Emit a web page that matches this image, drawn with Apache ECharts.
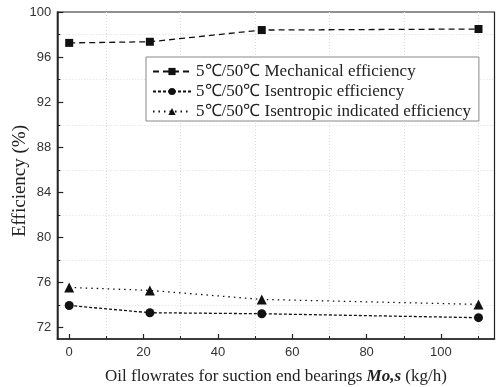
<!DOCTYPE html>
<html>
<head>
<meta charset="utf-8">
<script src="https://cdn.jsdelivr.net/npm/echarts@6/dist/echarts.min.js"></script>
<style>html,body{margin:0;padding:0;background:#fff}#c{width:500px;height:387px}</style>
</head>
<body>
<div id="c"></div>
<script>
const xValues = [0, 21.7, 51.8, 110.1];
const mechanical = [97.26, 97.36, 98.40, 98.49];
const isentropic = [73.97, 73.33, 73.24, 72.89];
const indicated = [75.57, 75.31, 74.51, 74.07];
const seriesNames = [
  '5\u2103/50\u2103 Mechanical efficiency',
  '5\u2103/50\u2103 Isentropic efficiency',
  '5\u2103/50\u2103 Isentropic indicated efficiency'
];
const xMajorTicks = [0, 20, 40, 60, 80, 100];
const xMinorTicks = [10, 30, 50, 70, 90, 110];
const yMajorTicks = [72, 76, 80, 84, 88, 92, 96, 100];
const yMinorTicks = [74, 78, 82, 86, 90, 94, 98];

const X_MIN = -3.2, X_MAX = 114.4, Y_MIN = 71, Y_MAX = 100;

function pts(ys) { return xValues.map((x, i) => [x, ys[i]]); }

const chart = echarts.init(document.getElementById('c'), null, {renderer: 'canvas'});
const labelFont = {fontFamily: '"Liberation Sans", Arial, sans-serif', fontSize: 13, color: '#333'};
const serif = '"Liberation Serif", "Times New Roman", serif';

chart.setOption({
  animation: false,
  backgroundColor: '#fff',
  grid: {left: 57.3, right: 5.5, top: 12, bottom: 48, outerBoundsMode: 'none', containLabel: false,
         show: true, borderColor: '#222', borderWidth: 1.2, backgroundColor: 'transparent'},
  legend: {
    orient: 'vertical', left: 146, top: 57,
    data: seriesNames,
    itemWidth: 38, itemHeight: 9, itemGap: 3,
    padding: [6, 8, 1, 6],
    borderColor: '#888', borderWidth: 1, backgroundColor: '#fff',
    textStyle: {fontFamily: serif, fontSize: 17, lineHeight: 15, color: '#222'}
  },
  xAxis: [{
    type: 'value', min: X_MIN, max: X_MAX, position: 'bottom',
    name: '{n|Oil flowrates for suction end bearings }{b|Mo,s}{n| (kg/h)}',
    nameLocation: 'middle', nameGap: 29, nameMoveOverlap: false,
    nameTextStyle: {rich: {
      n: {fontFamily: serif, fontSize: 17, color: '#222'},
      b: {fontFamily: serif, fontSize: 17, color: '#222', fontWeight: 'bold', fontStyle: 'italic'}
    }},
    axisLine: {onZero: false, lineStyle: {color: '#222', width: 1.5}},
    axisTick: {inside: true, length: 5, customValues: xMajorTicks, lineStyle: {color: '#222', width: 1.2}},
    axisLabel: {customValues: xMajorTicks, margin: 7, ...labelFont},
    splitLine: {show: false}
  }, {
    type: 'value', min: X_MIN, max: X_MAX, position: 'bottom',
    axisLine: {show: false, onZero: false},
    axisTick: {inside: true, length: 3, customValues: xMinorTicks, lineStyle: {color: '#222', width: 1}},
    axisLabel: {show: false},
    splitLine: {show: true, lineStyle: {color: '#ddd', type: [1, 2], width: 1}}
  }],
  yAxis: [{
    type: 'value', min: Y_MIN, max: Y_MAX, position: 'left',
    name: 'Efficiency (%)', nameLocation: 'middle', nameGap: 28, nameMoveOverlap: false,
    nameTextStyle: {fontFamily: serif, fontSize: 19, color: '#222', padding: [0, 11, 0, 0]},
    axisLine: {onZero: false, lineStyle: {color: '#222', width: 1.5}},
    axisTick: {inside: true, length: 6, customValues: yMajorTicks, lineStyle: {color: '#222', width: 1.2}},
    axisLabel: {customValues: yMajorTicks, margin: 6, ...labelFont},
    splitLine: {show: false}
  }, {
    type: 'value', min: Y_MIN, max: Y_MAX, position: 'left',
    axisLine: {show: false, onZero: false},
    axisTick: {inside: true, length: 3, customValues: yMinorTicks, lineStyle: {color: '#222', width: 1}},
    axisLabel: {show: false},
    splitLine: {show: true, lineStyle: {color: '#ddd', type: [1, 2], width: 1}}
  }],
  series: [{
    name: seriesNames[0], type: 'line', data: pts(mechanical),
    symbol: 'rect', symbolSize: 8,
    lineStyle: {color: '#111', width: 1.3, type: [6, 4]},
    itemStyle: {color: '#111'}
  }, {
    name: seriesNames[1], type: 'line', data: pts(isentropic),
    symbol: 'circle', symbolSize: 9,
    lineStyle: {color: '#111', width: 1.3, type: [3, 2]},
    itemStyle: {color: '#111'}
  }, {
    name: seriesNames[2], type: 'line', data: pts(indicated),
    symbol: 'triangle', symbolSize: 10,
    lineStyle: {color: '#111', width: 1.3, type: [1.5, 4]},
    itemStyle: {color: '#111'}
  }]
});
</script>
</body>
</html>
